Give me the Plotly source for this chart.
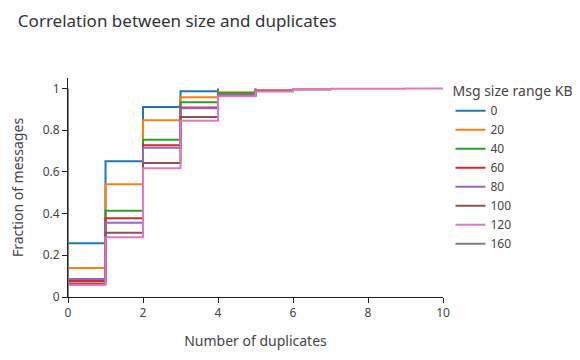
import plotly.graph_objects as go

size_ranges = ["0", "20", "40", "60", "80", "100", "120", "160"]
colors = ["#1f77b4", "#ff7f0e", "#2ca02c", "#d62728", "#9467bd", "#8c564b", "#e377c2", "#7f7f7f"]

# cumulative fraction of messages with <= n duplicates, n = 0, 1, 2, ...
cdf_0 = [0.258, 0.651, 0.911, 0.986, 1.0]
cdf_20 = [0.139, 0.541, 0.847, 0.958, 0.982, 0.99, 1.0]
cdf_40 = [0.082, 0.413, 0.754, 0.934, 0.978, 1.0]
cdf_60 = [0.077, 0.378, 0.727, 0.908, 0.967, 0.99, 1.0]
cdf_80 = [0.086, 0.356, 0.715, 0.905, 0.97, 1.0]
cdf_100 = [0.065, 0.308, 0.643, 0.863, 0.965, 0.988, 0.995, 1.0]
cdf_120 = [0.057, 0.287, 0.617, 0.845, 0.962, 0.985, 0.997, 0.998, 0.999, 0.9995, 1.0]
cdf_160 = [1.0]

all_cdfs = [cdf_0, cdf_20, cdf_40, cdf_60, cdf_80, cdf_100, cdf_120, cdf_160]

fig = go.Figure()
for name, cdf, col in zip(size_ranges, all_cdfs, colors):
    xs = [0] + list(range(len(cdf)))
    ys = [0] + cdf
    fig.add_trace(go.Scatter(x=xs, y=ys, mode="lines", name=name,
                             line=dict(color=col, width=2, shape="hv")))

fig.update_layout(
    width=580, height=360,
    font=dict(family="Noto Sans, Open Sans, sans-serif", size=12, color="#444"),
    title=dict(text="Correlation between size and duplicates", x=0.017, y=0.98,
               font=dict(size=17, color="#333")),
    paper_bgcolor="white", plot_bgcolor="white",
    margin=dict(l=60, r=145, t=70, b=71),
    legend=dict(title=dict(text="Msg size range KB", font=dict(size=14)),
                x=1.02, y=1.0, xanchor="left", yanchor="top",
                font=dict(size=12), tracegroupgap=0),
    xaxis=dict(title=dict(text="Number of duplicates", font=dict(size=14)), range=[0, 10],
               showline=True, linecolor="#222", linewidth=1, ticks="outside",
               tickcolor="#222", ticklen=5, showgrid=False, zeroline=False, dtick=2),
    yaxis=dict(title=dict(text="Fraction of messages", font=dict(size=14), standoff=22),
               automargin=False, range=[0, 1.05],
               showline=True, linecolor="#222", linewidth=1, ticks="outside",
               tickcolor="#222", ticklen=5, showgrid=False, zeroline=False, dtick=0.2),
)

fig.write_html("out.html")
